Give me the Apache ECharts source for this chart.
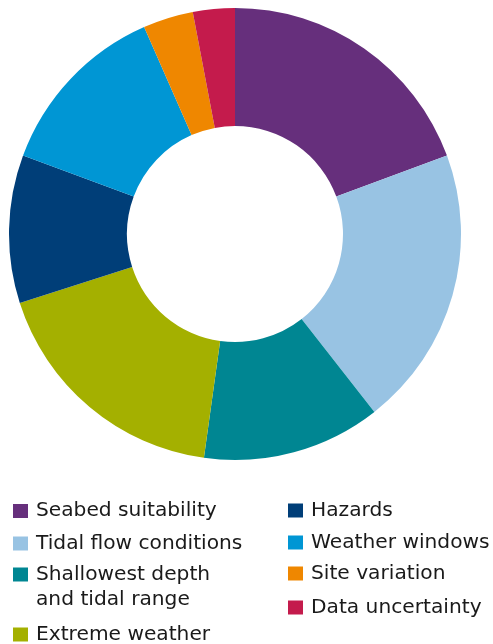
<!DOCTYPE html>
<html><head><meta charset="utf-8">
<script src="https://cdn.jsdelivr.net/npm/echarts@6/dist/echarts.min.js"></script>
<style>html,body{margin:0;padding:0;background:#fff}#c{width:493px;height:644px}</style>
</head><body><div id="c"></div>
<script>
const categories = ["Seabed suitability","Tidal flow conditions","Shallowest depth and tidal range","Extreme weather","Hazards","Weather windows","Site variation","Data uncertainty"];
const values = [19.4, 20.1, 12.8, 17.9, 10.6, 12.8, 3.6, 3.0];
const colors = ["#662f7c","#98c3e3","#008692","#a4b000","#003e78","#0096d4","#ef8700","#c41b4c"];
const legendLabels = ["Seabed suitability","Tidal flow conditions","Shallowest depth","Extreme weather","Hazards","Weather windows","Site variation","Data uncertainty"];
const legendPos = [[13,508],[13,540.5],[13,571.5],[13,631.5],[288,507.5],[288,539.5],[288,570.5],[288,604.5]];

const chart = echarts.init(document.getElementById('c'));
const legends = categories.map((n,i)=>({
  data:[n], left: legendPos[i][0], top: legendPos[i][1]-7,
  itemWidth:15, itemHeight:14, itemGap:0, padding:0, icon:'rect',
  formatter: ()=>legendLabels[i], selectedMode:false,
  textStyle:{fontFamily:'DejaVu Sans', fontSize:20.2, color:'#1a1a1a', lineHeight:14, padding:[0,0,0,3]}
}));
chart.setOption({
  animation:false,
  color: colors,
  legend: legends,
  graphic:[{type:'text', left:36, top:589.5, style:{text:'and tidal range', fontFamily:'DejaVu Sans', fontSize:20.2, fill:'#1a1a1a'}}],
  series:[{
    type:'pie', center:[235,234], radius:[108,226], startAngle:90, clockwise:true,
    label:{show:false}, labelLine:{show:false}, silent:true,
    data: categories.map((n,i)=>({name:n, value:values[i]}))
  }]
});
</script></body></html>
